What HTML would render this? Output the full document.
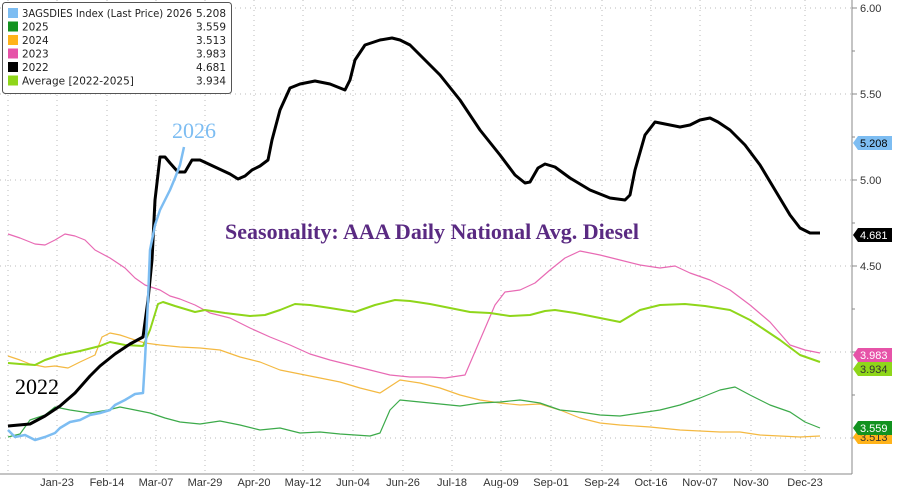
<!DOCTYPE html>
<html><head><meta charset="utf-8"><style>
body{margin:0;background:#fff;}
svg{display:block;font-family:"Liberation Sans",sans-serif;}
</style></head><body>
<svg width="900" height="488" viewBox="0 0 900 488">
<rect width="900" height="488" fill="#fff"/>
<g stroke="#bbb" stroke-width="1" stroke-dasharray="1,4">
<line x1="0" y1="8" x2="852" y2="8"/><line x1="0" y1="94" x2="852" y2="94"/>
<line x1="0" y1="180" x2="852" y2="180"/><line x1="0" y1="266" x2="852" y2="266"/>
<line x1="0" y1="352" x2="852" y2="352"/><line x1="0" y1="438" x2="852" y2="438"/>
<line x1="8" y1="0" x2="8" y2="474"/><line x1="57" y1="0" x2="57" y2="474"/><line x1="107" y1="0" x2="107" y2="474"/>
<line x1="156" y1="0" x2="156" y2="474"/><line x1="205" y1="0" x2="205" y2="474"/><line x1="254" y1="0" x2="254" y2="474"/>
<line x1="303" y1="0" x2="303" y2="474"/><line x1="353" y1="0" x2="353" y2="474"/><line x1="403" y1="0" x2="403" y2="474"/>
<line x1="452" y1="0" x2="452" y2="474"/><line x1="501" y1="0" x2="501" y2="474"/><line x1="551" y1="0" x2="551" y2="474"/>
<line x1="602" y1="0" x2="602" y2="474"/><line x1="651" y1="0" x2="651" y2="474"/><line x1="700" y1="0" x2="700" y2="474"/>
<line x1="751" y1="0" x2="751" y2="474"/><line x1="805" y1="0" x2="805" y2="474"/>
</g>
<g stroke="#888" stroke-width="1">
<line x1="852" y1="0" x2="852" y2="474"/><line x1="0" y1="474" x2="852" y2="474"/>
<line x1="852" y1="8" x2="857" y2="8"/><line x1="852" y1="94" x2="857" y2="94"/><line x1="852" y1="180" x2="857" y2="180"/>
<line x1="852" y1="266" x2="857" y2="266"/><line x1="852" y1="352" x2="857" y2="352"/><line x1="852" y1="438" x2="857" y2="438"/>
<line x1="852" y1="51" x2="855" y2="51"/><line x1="852" y1="137" x2="855" y2="137"/><line x1="852" y1="223" x2="855" y2="223"/>
<line x1="852" y1="309" x2="855" y2="309"/><line x1="852" y1="395" x2="855" y2="395"/>
</g>
<g font-size="11" fill="#333">
<text x="860" y="12">6.00</text><text x="860" y="98">5.50</text><text x="860" y="184">5.00</text><text x="860" y="270">4.50</text>
</g>
<g font-size="11" fill="#333" text-anchor="middle">
<text x="57" y="486">Jan-23</text><text x="107" y="486">Feb-14</text><text x="156" y="486">Mar-07</text><text x="205" y="486">Mar-29</text>
<text x="254" y="486">Apr-20</text><text x="303" y="486">May-12</text><text x="353" y="486">Jun-04</text><text x="403" y="486">Jun-26</text>
<text x="452" y="486">Jul-18</text><text x="501" y="486">Aug-09</text><text x="551" y="486">Sep-01</text><text x="602" y="486">Sep-24</text>
<text x="651" y="486">Oct-16</text><text x="700" y="486">Nov-07</text><text x="751" y="486">Nov-30</text><text x="805" y="486">Dec-23</text>
</g>
<g fill="none" stroke-linejoin="round">
<polyline stroke="#f4b942" stroke-width="1.2" points="8,356 20,360 30,364 45,367 55,366 68,368 80,362 95,355 102,337 110,333 120,335 135,340 145,343 160,345 180,347 200,348 220,350 240,357 260,362 280,370 300,374 320,378 340,382 360,388 380,393 400,380 420,383 440,388 460,395 480,400 500,403 520,405 540,404 560,410 580,418 600,423 620,425 650,427 680,430 700,431 720,432 740,432 760,435 780,436 800,437 820,436"/>
<polyline stroke="#3caa4a" stroke-width="1.2" points="8,437 20,434 30,420 45,415 55,407 70,410 90,413 108,410 120,407 135,410 150,413 165,418 180,422 200,424 220,421 240,425 260,430 280,428 300,433 320,432 340,434 355,435 370,436 380,433 390,410 400,400 420,402 440,404 460,406 480,403 500,402 520,400 540,403 560,410 580,412 600,415 620,416 640,413 660,410 680,405 700,398 720,390 735,387 750,395 770,405 790,412 805,422 820,428"/>
<polyline stroke="#e86ab4" stroke-width="1.2" points="8,234 20,238 35,244 45,245 55,240 65,234 75,236 85,240 95,250 110,258 125,268 135,278 145,285 160,290 170,296 180,299 195,305 210,313 230,318 250,328 270,337 290,345 310,354 330,360 350,365 370,370 390,375 410,377 430,377 445,378 465,375 480,340 495,305 505,292 520,290 535,283 550,270 565,258 580,251 600,255 620,260 640,265 660,268 675,266 690,273 710,280 730,290 750,305 770,322 790,345 805,350 820,353"/>
<polyline stroke="#8fd61a" stroke-width="2" points="8,363 20,364 35,365 45,360 60,355 80,351 100,346 110,342 125,345 143,346 150,330 158,304 163,302 175,306 195,312 205,310 225,313 250,316 265,315 280,310 295,304 310,305 330,308 355,312 375,305 395,300 410,301 430,304 450,308 470,312 490,313 510,316 530,315 545,311 555,310 575,313 600,318 620,322 640,310 660,305 685,304 705,306 730,310 750,320 765,330 780,340 800,355 820,362"/>
<polyline stroke="#000" stroke-width="3" points="8,426 30,424 45,416 60,406 75,393 90,376 100,366 115,354 130,344 143,337 148,300 152,260 155,200 160,157 165,157 170,163 178,172 185,172 192,160 200,160 215,167 230,174 238,179 245,176 252,170 260,166 268,160 272,140 280,110 290,88 300,84 315,81 330,84 340,88 345,90 350,80 355,60 365,45 380,40 392,38 400,40 410,45 420,55 440,75 460,100 480,130 500,155 515,175 525,183 530,182 538,168 545,164 555,167 570,178 590,190 610,198 625,200 630,195 635,170 645,135 655,122 665,124 680,127 690,125 700,120 710,118 718,122 730,130 745,145 760,165 775,190 790,215 800,228 810,233 820,233"/>
<polyline stroke="#7dbdf2" stroke-width="2.5" points="8,430 15,437 25,435 35,440 45,437 55,433 60,428 70,422 80,420 90,415 100,413 110,410 115,405 125,400 135,394 143,393 145,360 148,300 150,250 155,225 160,210 170,190 175,178 180,165 184,147"/>
</g>
<text x="432" y="239" text-anchor="middle" font-family="Liberation Serif,serif" font-weight="bold" font-size="22" fill="#5a2a82" textLength="414" lengthAdjust="spacingAndGlyphs">Seasonality: AAA Daily National Avg. Diesel</text>
<text x="172" y="138" font-family="Liberation Serif,serif" font-size="22" fill="#7dbdf2">2026</text>
<text x="15" y="394" font-family="Liberation Serif,serif" font-size="22" fill="#000">2022</text>
<g font-size="11">
<path d="M853,369 l5,-7 h34 v14 h-34 z" fill="#8fd61a"/><text x="860" y="373" fill="#333">3.934</text>
<path d="M853,355 l5,-7 h34 v14 h-34 z" fill="#e653a8"/><text x="860" y="359" fill="#fff">3.983</text>
<path d="M853,437 l5,-7 h34 v14 h-34 z" fill="#ffb31a"/><text x="860" y="441" fill="#333">3.513</text>
<path d="M853,428 l5,-7 h34 v14 h-34 z" fill="#12921f"/><text x="860" y="432" fill="#fff">3.559</text>
<path d="M853,143 l5,-7 h34 v14 h-34 z" fill="#7dbdf2"/><text x="860" y="147" fill="#000">5.208</text>
<path d="M853,235 l5,-7 h34 v14 h-34 z" fill="#000"/><text x="860" y="239" fill="#fff">4.681</text>
</g>
<rect x="2.5" y="2.5" width="229" height="91" rx="3" fill="#fff" stroke="#555"/>
<g font-size="10.5" fill="#222" font-family="DejaVu Sans,sans-serif">
<rect x="8" y="8" width="10" height="10" fill="#7dbdf2"/><text x="22" y="17" textLength="170" lengthAdjust="spacingAndGlyphs">3AGSDIES Index (Last Price) 2026</text><text x="226" y="17" text-anchor="end">5.208</text>
<rect x="8" y="21.5" width="10" height="10" fill="#12921f"/><text x="22" y="30.5">2025</text><text x="226" y="30.5" text-anchor="end">3.559</text>
<rect x="8" y="35" width="10" height="10" fill="#ffb31a"/><text x="22" y="44">2024</text><text x="226" y="44" text-anchor="end">3.513</text>
<rect x="8" y="48.5" width="10" height="10" fill="#e653a8"/><text x="22" y="57.5">2023</text><text x="226" y="57.5" text-anchor="end">3.983</text>
<rect x="8" y="62" width="10" height="10" fill="#000"/><text x="22" y="71">2022</text><text x="226" y="71" text-anchor="end">4.681</text>
<rect x="8" y="75.5" width="10" height="10" fill="#8fd61a"/><text x="22" y="84.5">Average  [2022-2025]</text><text x="226" y="84.5" text-anchor="end">3.934</text>
</g>
</svg>
</body></html>
